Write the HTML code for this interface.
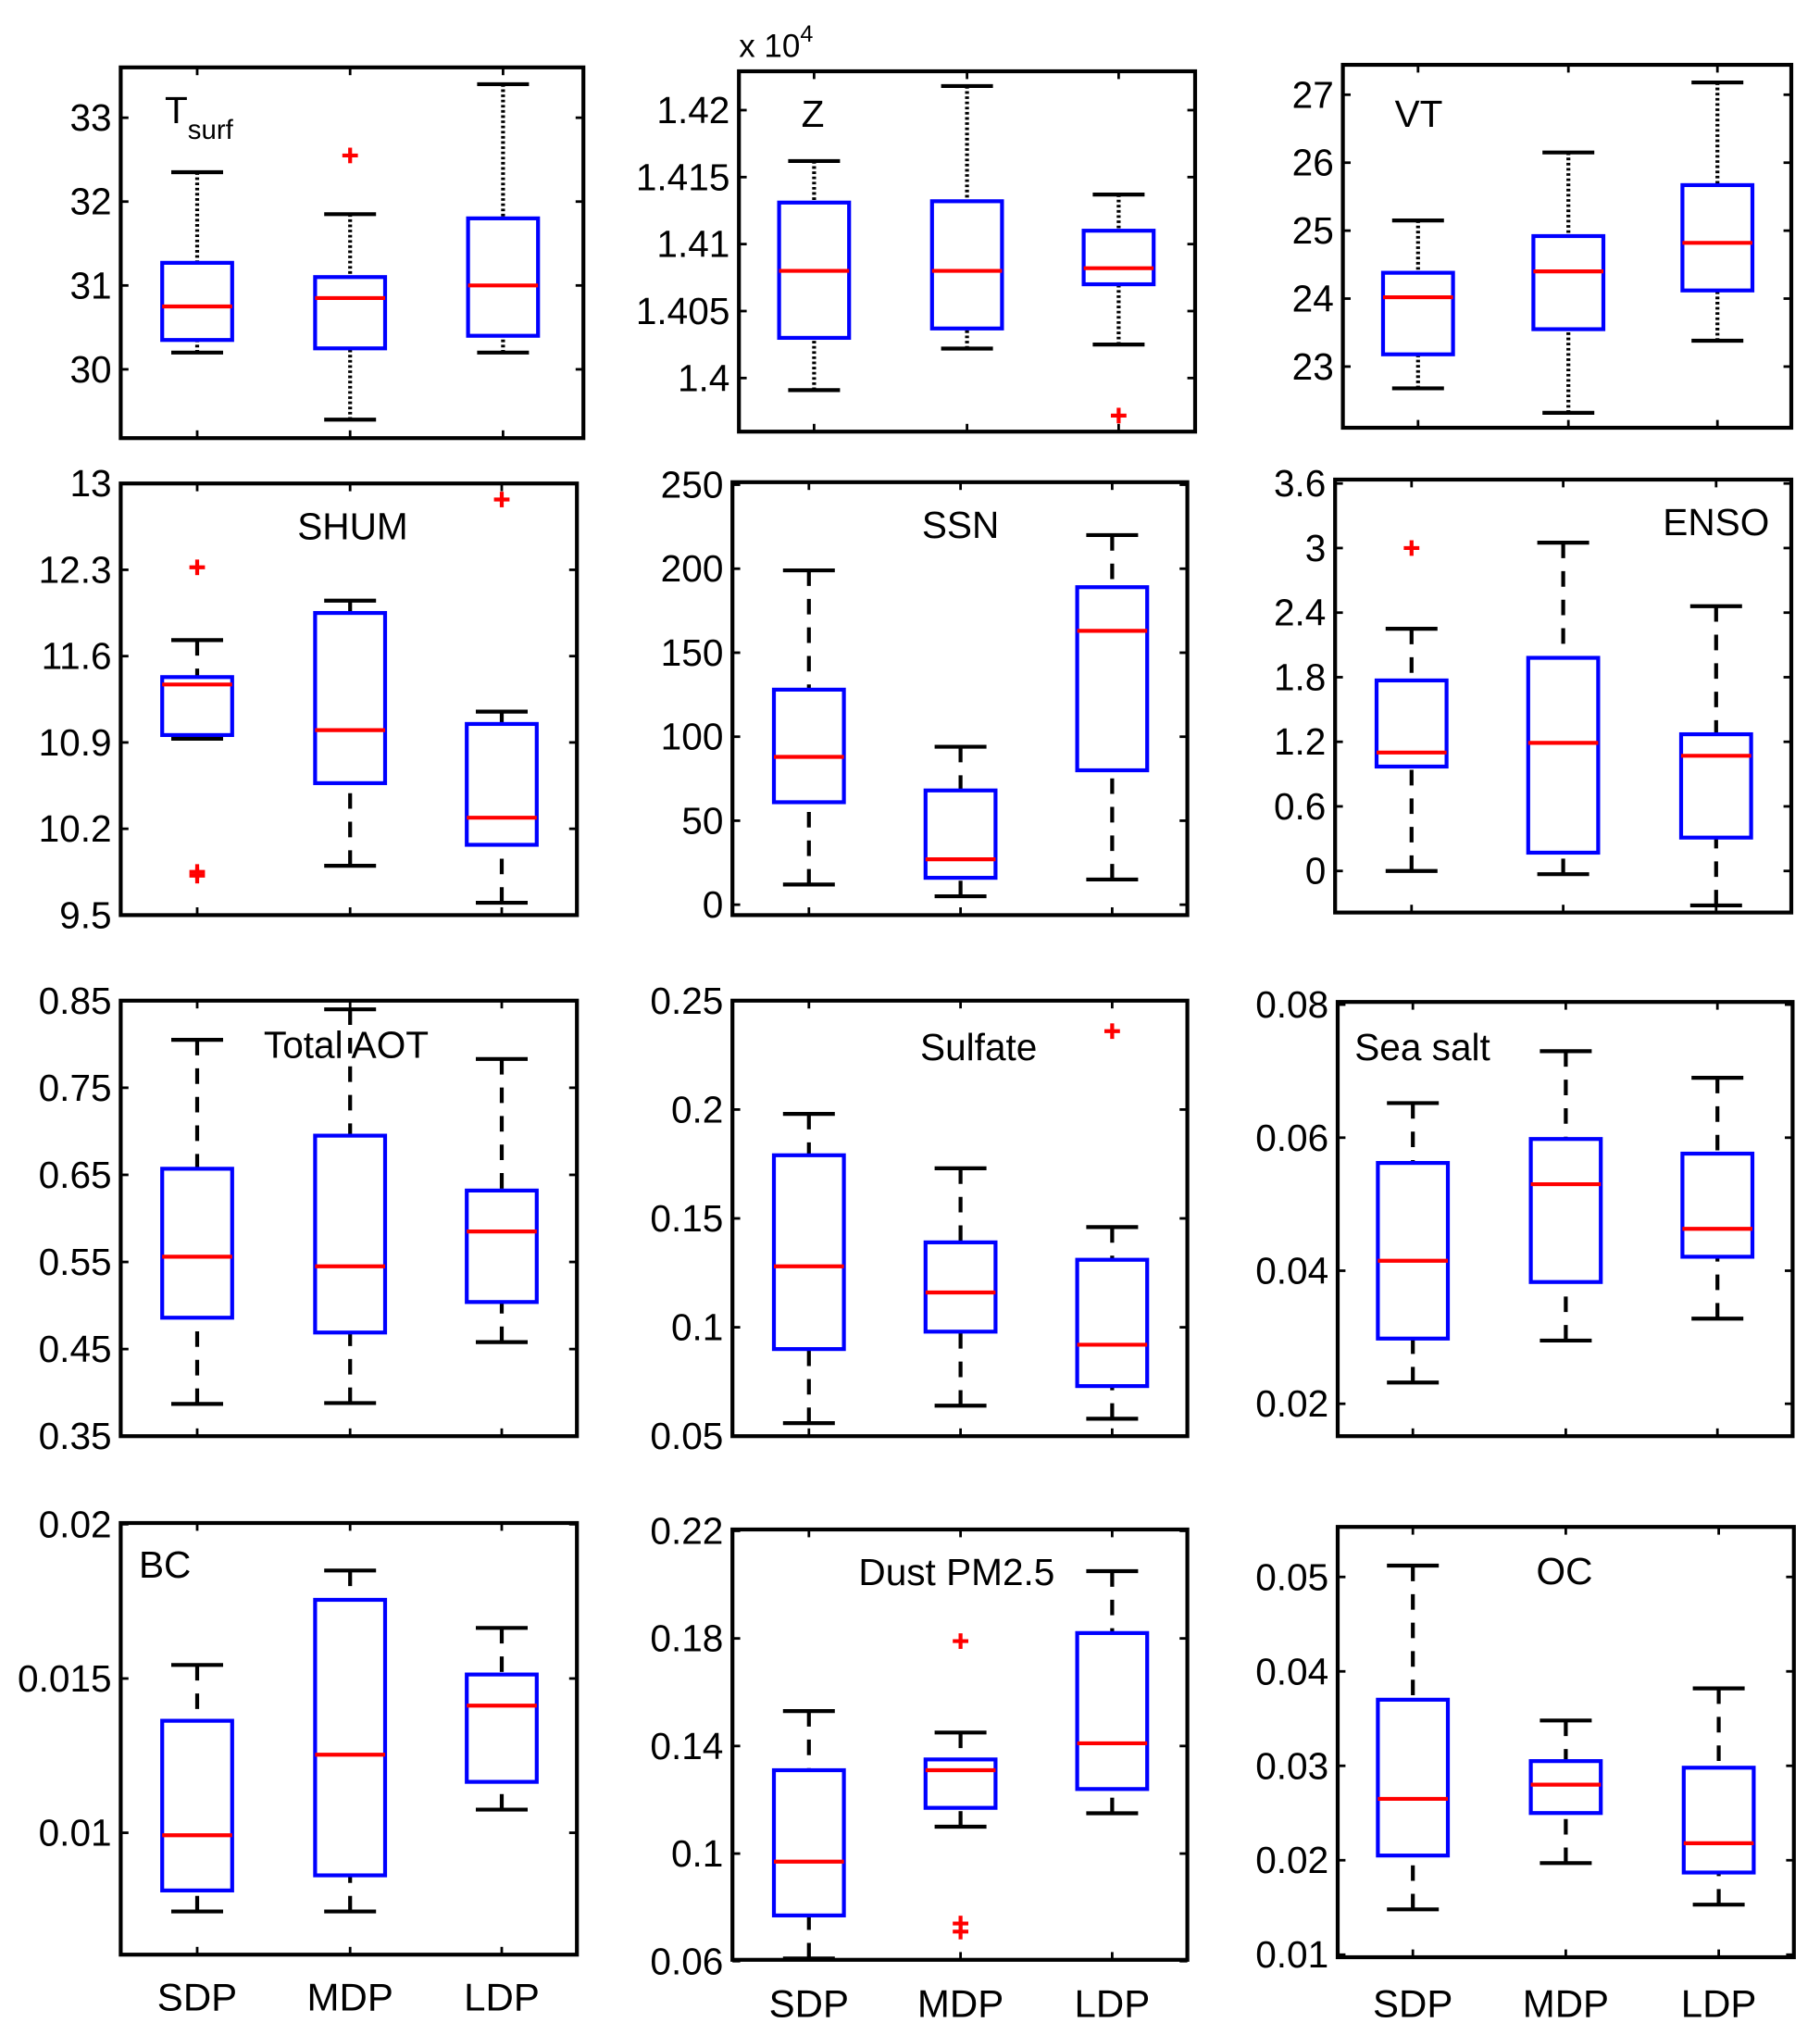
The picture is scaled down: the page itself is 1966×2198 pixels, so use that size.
<!DOCTYPE html>
<html><head><meta charset="utf-8"><style>
html,body{margin:0;padding:0;background:#fff}
svg{display:block}
text{font-family:"Liberation Sans",Arial,sans-serif;fill:#000}
</style></head><body>
<svg id="fig" width="1966" height="2198" viewBox="0 0 1404 1570" xmlns="http://www.w3.org/2000/svg"></svg>
<script>
const categories = ["SDP","MDP","LDP"];
// stats per category: [low whisker, q1, median, q3, high whisker]
const tsurfStats = [[30.2,30.35,30.75,31.27,32.35],[29.4,30.25,30.85,31.1,31.85],[30.2,30.4,31.0,31.8,33.4]];
const tsurfOut = [[],[32.55],[]];
const zStats = [[1.3991,1.4030,1.4080,1.4131,1.4162],[1.4022,1.4037,1.4080,1.4132,1.4218],[1.4025,1.4070,1.4082,1.4110,1.4137]];
const zOut = [[],[],[1.3972]];
const vtStats = [[22.68,23.18,24.02,24.38,25.15],[22.32,23.55,24.4,24.92,26.15],[23.38,24.12,24.82,25.67,27.18]];
const vtOut = [[],[],[]];
const shumStats = [[10.93,10.96,11.37,11.43,11.73],[9.9,10.57,11.0,11.95,12.05],[9.6,10.07,10.29,11.05,11.15]];
const shumOut = [[12.32,9.85,9.82],[],[12.87]];
const ssnStats = [[12,61,88,128,199],[5,16,27,68,94],[15,80,163,189,220]];
const ssnOut = [[],[],[]];
const ensoStats = [[0.0,0.97,1.1,1.77,2.25],[-0.03,0.17,1.19,1.98,3.05],[-0.32,0.31,1.07,1.27,2.46]];
const ensoOut = [[3.0],[],[]];
const aotStats = [[0.387,0.486,0.556,0.657,0.805],[0.388,0.469,0.545,0.695,0.84],[0.458,0.504,0.585,0.632,0.783]];
const aotOut = [[],[],[]];
const sulfStats = [[0.056,0.09,0.128,0.179,0.198],[0.064,0.098,0.116,0.139,0.173],[0.058,0.073,0.092,0.131,0.146]];
const sulfOut = [[],[],[0.236]];
const saltStats = [[0.0232,0.0298,0.0415,0.0562,0.0652],[0.0295,0.0383,0.053,0.0598,0.073],[0.0328,0.0421,0.0463,0.0576,0.069]];
const saltOut = [[],[],[]];
const bcStats = [[0.00745,0.00813,0.00992,0.01363,0.01544],[0.00745,0.00862,0.01253,0.01755,0.0185],[0.01075,0.01165,0.01412,0.01513,0.01664]];
const bcOut = [[],[],[]];
const dustStats = [[0.061,0.077,0.097,0.131,0.153],[0.110,0.117,0.131,0.135,0.145],[0.115,0.124,0.141,0.182,0.205]];
const dustOut = [[],[0.179,0.074,0.071],[]];
const ocStats = [[0.0148,0.0205,0.0265,0.0370,0.0512],[0.0197,0.0250,0.0280,0.0305,0.0348],[0.0153,0.0187,0.0218,0.0298,0.0382]];
const ocOut = [[],[],[]];
const tsurfTicks = ["30","31","32","33"];
const zTicks = ["1.4","1.405","1.41","1.415","1.42"];
const vtTicks = ["23","24","25","26","27"];
const shumTicks = ["9.5","10.2","10.9","11.6","12.3","13"];
const ssnTicks = ["0","50","100","150","200","250"];
const ensoTicks = ["0","0.6","1.2","1.8","2.4","3","3.6"];
const aotTicks = ["0.35","0.45","0.55","0.65","0.75","0.85"];
const sulfTicks = ["0.05","0.1","0.15","0.2","0.25"];
const saltTicks = ["0.02","0.04","0.06","0.08"];
const bcTicks = ["0.01","0.015","0.02"];
const dustTicks = ["0.06","0.1","0.14","0.18","0.22"];
const ocTicks = ["0.01","0.02","0.03","0.04","0.05"];

const NS="http://www.w3.org/2000/svg";
const svg=document.getElementById('fig');
function mk(tag,attrs,parent){const e=document.createElementNS(NS,tag);for(const k in attrs)e.setAttribute(k,attrs[k]);(parent||svg).appendChild(e);return e;}

const panels=[
 {name:"tsurf",x0:93,x1:450,y0:52,y1:338,vmin:29.18,vmax:33.6,stats:tsurfStats,out:tsurfOut,ticks:tsurfTicks,cx:[152,270,388],dot:true,title:"T",sub:"surf",tx:127,ty:95,anchor:"start"},
 {name:"z",x0:570,x1:922,y0:55,y1:333,vmin:1.396,vmax:1.4229,stats:zStats,out:zOut,ticks:zTicks,cx:[628,746,863],dot:true,title:"Z",tx:627,ty:98,anchor:"middle"},
 {name:"vt",x0:1036,x1:1382,y0:50,y1:330,vmin:22.1,vmax:27.44,stats:vtStats,out:vtOut,ticks:vtTicks,cx:[1094,1210,1325],dot:true,title:"VT",tx:1076,ty:98,anchor:"start"},
 {name:"shum",x0:93,x1:445,y0:373,y1:706,vmin:9.5,vmax:13,stats:shumStats,out:shumOut,ticks:shumTicks,cx:[152,270,387],title:"SHUM",tx:272,ty:416,anchor:"middle"},
 {name:"ssn",x0:565,x1:916,y0:372,y1:706,vmin:-6.2,vmax:251.5,stats:ssnStats,out:ssnOut,ticks:ssnTicks,cx:[624,741,858],title:"SSN",tx:741,ty:415,anchor:"middle"},
 {name:"enso",x0:1030,x1:1382,y0:370,y1:704,vmin:-0.386,vmax:3.636,stats:ensoStats,out:ensoOut,ticks:ensoTicks,cx:[1089,1206,1324],title:"ENSO",tx:1324,ty:413,anchor:"middle"},
 {name:"aot",x0:93,x1:445,y0:772,y1:1108,vmin:0.35,vmax:0.85,stats:aotStats,out:aotOut,ticks:aotTicks,cx:[152,270,387],title:"Total AOT",tx:267,ty:816,anchor:"middle"},
 {name:"sulfate",x0:565,x1:916,y0:772,y1:1108,vmin:0.05,vmax:0.25,stats:sulfStats,out:sulfOut,ticks:sulfTicks,cx:[624,741,858],title:"Sulfate",tx:755,ty:818,anchor:"middle"},
 {name:"seasalt",x0:1032,x1:1383,y0:773,y1:1108,vmin:0.01513,vmax:0.0804,stats:saltStats,out:saltOut,ticks:saltTicks,cx:[1090,1208,1325],title:"Sea salt",tx:1045,ty:818,anchor:"start"},
 {name:"bc",x0:93,x1:445,y0:1175,y1:1508,vmin:0.00605,vmax:0.02004,stats:bcStats,out:bcOut,ticks:bcTicks,cx:[152,270,387],title:"BC",tx:107,ty:1217,anchor:"start",xl:1540},
 {name:"dust",x0:565,x1:916,y0:1180,y1:1512,vmin:0.0605,vmax:0.2205,stats:dustStats,out:dustOut,ticks:dustTicks,cx:[624,741,858],title:"Dust PM2.5",tx:738,ty:1223,anchor:"middle",xl:1545},
 {name:"oc",x0:1032,x1:1384,y0:1178,y1:1510,vmin:0.00973,vmax:0.0553,stats:ocStats,out:ocOut,ticks:ocTicks,cx:[1090,1208,1326],title:"OC",tx:1207,ty:1222,anchor:"middle",xl:1545}
];

panels.forEach(p=>{
  const g=mk('g',{});
  
  
  const y=v=>p.y1-(v-p.vmin)/(p.vmax-p.vmin)*(p.y1-p.y0);
  p.ticks.forEach(t=>{
    const yy=y(parseFloat(t));
    const tl=mk('line',{x1:p.x0,x2:p.x0+6,y1:yy,y2:yy,stroke:'#000','stroke-width':2},g);
    
    
    mk('line',{x1:p.x1-6,x2:p.x1,y1:yy,y2:yy,stroke:'#000','stroke-width':2},g);
    const tx=mk('text',{x:p.x0-7,y:yy+10,'font-size':29,'text-anchor':'end'},g);
    tx.textContent=t;
    
    
  });
  p.cx.forEach(cx=>{
    mk('line',{x1:cx,x2:cx,y1:p.y0,y2:p.y0+6,stroke:'#000','stroke-width':2},g);
    mk('line',{x1:cx,x2:cx,y1:p.y1-6,y2:p.y1,stroke:'#000','stroke-width':2},g);
  });
  p.stats.forEach((s,i)=>{
    const cx=p.cx[i];
    const bg=mk('g',{},g);
    
    
    const dash=p.dot?'2,2':'12,10';
    mk('line',{x1:cx,x2:cx,y1:y(s[0]),y2:y(s[1]),stroke:'#000','stroke-width':3,'stroke-dasharray':dash},bg);
    mk('line',{x1:cx,x2:cx,y1:y(s[4]),y2:y(s[3]),stroke:'#000','stroke-width':3,'stroke-dasharray':dash},bg);
    mk('line',{x1:cx-20,x2:cx+20,y1:y(s[0]),y2:y(s[0]),stroke:'#000','stroke-width':3},bg);
    mk('line',{x1:cx-20,x2:cx+20,y1:y(s[4]),y2:y(s[4]),stroke:'#000','stroke-width':3},bg);
    mk('rect',{x:cx-27,y:y(s[3]),width:54,height:y(s[1])-y(s[3]),fill:'none',stroke:'#0000ff','stroke-width':3},bg);
    mk('line',{x1:cx-27,x2:cx+27,y1:y(s[2]),y2:y(s[2]),stroke:'#ff0000','stroke-width':3},bg);
    p.out[i].forEach(o=>{
      const oy=y(o);
      const og=mk('g',{},bg);
      
      
      mk('line',{x1:cx-6,x2:cx+6,y1:oy,y2:oy,stroke:'#ff0000','stroke-width':3},og);
      mk('line',{x1:cx,x2:cx,y1:oy-6,y2:oy+6,stroke:'#ff0000','stroke-width':3},og);
    });
  });
  const fr=mk('rect',{x:p.x0,y:p.y0,width:p.x1-p.x0,height:p.y1-p.y0,fill:'none',stroke:'#000','stroke-width':3},g);
  
  
  const ti=mk('text',{x:p.tx,y:p.ty,'font-size':29,'text-anchor':p.anchor},g);
  
  
  ti.textContent=p.title;
  if(p.sub){const ts=mk('tspan',{dy:12,'font-size':21},ti);ts.textContent=p.sub;}
  if(p.xl){
    p.cx.forEach((cx,i)=>{
      const xl=mk('text',{x:cx,y:p.xl+11,'font-size':30,'text-anchor':'middle'},g);
      
      
      xl.textContent=categories[i];
    });
  }
});
const ex=mk('text',{x:570,y:44,'font-size':25});


ex.textContent='x 10';
const sup=mk('tspan',{dy:-12,'font-size':18},ex);sup.textContent='4';
</script>
</body></html>
